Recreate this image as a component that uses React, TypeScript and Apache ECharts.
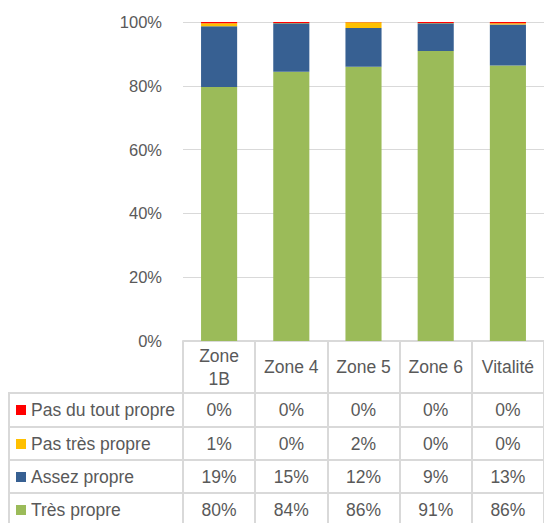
import React, { useEffect, useRef } from "react";
import * as echarts from "echarts";

const categories = ["Zone 1B", "Zone 4", "Zone 5", "Zone 6", "Vitalité"];
const seriesNames = ["Très propre", "Assez propre", "Pas très propre", "Pas du tout propre"];
const tresPropre = [79.6, 84.4, 86.0, 90.9, 86.4];
const assezPropre = [19.1, 15.2, 12.1, 8.7, 12.8];
const pasTresPropre = [0.9, 0.1, 1.8, 0.1, 0.4];
const pasDuToutPropre = [0.4, 0.3, 0.1, 0.3, 0.4];
const yTickMax = 100;
const yTickStep = 20;

const seriesValues = [tresPropre, assezPropre, pasTresPropre, pasDuToutPropre];
const colors = ["#9BBB59", "#376092", "#FFC000", "#FF0000"];
const FONT = "'Liberation Sans', Arial, sans-serif";
const TXT = "#595959";
const LINE = "#d9d9d9";

// table rows from top to bottom: reverse of stacking order
const rowOrder = [3, 2, 1, 0];
const rowCenters = [69, 103, 136, 169]; // offsets below axis baseline
const rowLines = [52, 86, 119, 152];

const fmt = (v: number) => `${Math.round(v)}%`;

export default function App() {
  const ref = useRef<HTMLDivElement>(null);
  useEffect(() => {
    if (!ref.current) return;
    const chart = echarts.init(ref.current, undefined, { renderer: "svg" });
    const xAxes: any[] = [
      {
        type: "category",
        data: categories,
        gridIndex: 0,
        position: "bottom",
        axisLine: { show: true, lineStyle: { color: LINE, width: 2 } },
        axisTick: { show: true, alignWithLabel: false, length: 190, lineStyle: { color: LINE, width: 2 } },
        axisLabel: {
          margin: 26,
          verticalAlign: "middle",
          fontSize: 17.5,
          lineHeight: 23,
          color: TXT,
          fontFamily: FONT,
          formatter: (v: string) => (v.length > 6 && v.indexOf(" ") > 0 ? v.replace(" ", "\n") : v),
        },
        splitLine: { show: false },
      },
    ];
    rowOrder.forEach((si, r) => {
      xAxes.push({
        type: "category",
        data: categories,
        gridIndex: 0,
        position: "bottom",
        axisLine: { show: false },
        axisTick: { show: false },
        splitLine: { show: false },
        axisLabel: {
          margin: rowCenters[r],
          verticalAlign: "middle",
          fontSize: 17.5,
          color: TXT,
          fontFamily: FONT,
          formatter: (_v: string, idx: number) => fmt(seriesValues[si][idx]),
        },
      });
    });

    chart.setOption({
      animation: false,
      grid: { left: 183, top: 22, width: 365, bottom: 182, containLabel: false },
      xAxis: xAxes,
      yAxis: {
        type: "value",
        min: 0,
        max: yTickMax,
        interval: yTickStep,
        axisLine: { show: false },
        axisTick: { show: false },
        axisLabel: { formatter: "{value}%", fontSize: 16.5, color: TXT, fontFamily: FONT, margin: 21 },
        splitLine: { lineStyle: { color: LINE, width: 1 } },
      },
      series: seriesNames.map((name, i) => ({
        name,
        type: "bar",
        stack: "total",
        barWidth: "50%",
        xAxisIndex: 0,
        yAxisIndex: 0,
        data: seriesValues[i],
        itemStyle: { color: colors[i] },
      })),
    });

    const base = chart.convertToPixel({ yAxisIndex: 0 }, 0) as number;
    const graphics: any[] = [];
    rowLines.forEach((o) => {
      graphics.push({
        type: "line",
        shape: { x1: 8, y1: base + o, x2: 544, y2: base + o },
        style: { stroke: LINE, lineWidth: 2 },
        silent: true,
      });
    });
    graphics.push({
      type: "line",
      shape: { x1: 9, y1: base + rowLines[0], x2: 9, y2: 523 },
      style: { stroke: LINE, lineWidth: 2 },
      silent: true,
    });
    rowOrder.forEach((si, r) => {
      const cy = base + rowCenters[r];
      graphics.push({
        type: "rect",
        shape: { x: 16, y: cy - 5, width: 10, height: 10 },
        style: { fill: colors[si] },
        silent: true,
      });
      graphics.push({
        type: "text",
        x: 31,
        y: cy,
        style: {
          text: seriesNames[si],
          fill: TXT,
          fontSize: 17.5,
          fontFamily: FONT,
          verticalAlign: "middle",
          align: "left",
        },
        silent: true,
      });
    });
    chart.setOption({ graphic: graphics });

    return () => chart.dispose();
  }, []);
  return <div ref={ref} style={{ position: "absolute", left: 0, top: 0, width: 544, height: 523 }} />;
}
